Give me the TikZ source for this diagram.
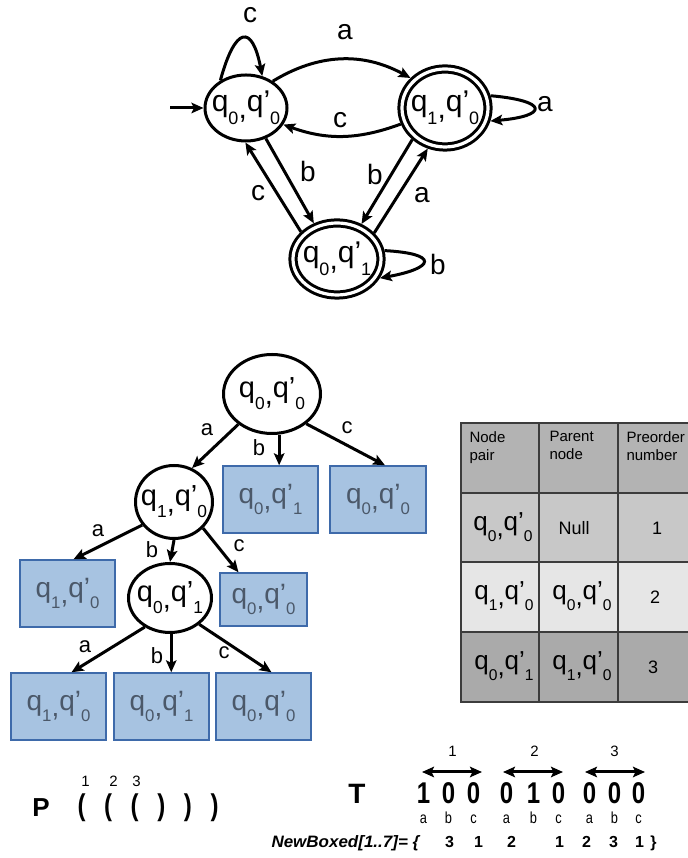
\documentclass[tikz,border=0pt]{standalone}
\usepackage{graphicx}
\usepackage{fontspec}
\setmainfont{Liberation Sans}
\usetikzlibrary{arrows.meta,shapes,automata,positioning}

\definecolor{leaffill}{HTML}{A7C3E1}
\definecolor{leafline}{HTML}{3E6AAA}
\definecolor{leaftext}{HTML}{4B5869}
\definecolor{headgray}{HTML}{B3B3B3}
\definecolor{rowone}{HTML}{C8C8C8}
\definecolor{rowtwo}{HTML}{E6E6E6}
\definecolor{rowthree}{HTML}{AAAAAA}
\definecolor{gridgray}{HTML}{3C3C3C}

\newcommand{\sub}[1]{\raisebox{-.42em}{\scalebox{.6}{#1}}}
\newcommand{\pq}[2]{q\sub{#1}\raisebox{-.22em}{,}q’\sub{#2}}
\newcommand{\fsz}[1]{\fontsize{#1}{#1}\selectfont}
\newcommand{\ctr}[1]{\makebox[0pt]{#1}}
\newcommand{\nar}[1]{\makebox[0pt]{\scalebox{.8}[1]{#1}}}

\begin{document}
\begin{tikzpicture}[x=1pt,y=1pt,>={Stealth[length=12pt,width=10.5pt,inset=2.5pt]},line width=3pt]

	\tikzstyle{pair}=[ellipse,draw=black,inner xsep=-12pt,inner ysep=0pt,font=\fsz{30}]
	\tikzstyle{final}=[pair,double,double distance=3.2pt,outer sep=4.6pt]
	\tikzstyle{leaf}=[rectangle,draw=leafline,fill=leaffill,line width=1.4pt,text=leaftext,minimum width=95pt,minimum height=67pt,font=\fsz{28}]
	\tikzstyle{sym}=[inner sep=0pt,font=\fsz{28}]
	\tikzstyle{tsym}=[inner sep=0pt,font=\fsz{22}]
	\tikzstyle{cell}=[inner sep=0pt,font=\fsz{26}]
	\tikzstyle{num}=[inner sep=0pt,font=\fsz{18}]
	\tikzstyle{head}=[font=\fontsize{15}{18}\selectfont,align=left,anchor=north west,inner sep=0pt]
	\tikzstyle{grid}=[draw=gridgray,line width=1.2pt]

	\useasboundingbox (0,0) rectangle (687,858);

	% product automaton
	\node [pair,minimum width=82pt,minimum height=66pt] (s00) at (246,750) {\pq{0}{0}};
	\node [final,minimum width=86pt,minimum height=78pt] (s10) at (445,750) {\pq{1}{0}};
	\node [final,minimum width=88pt,minimum height=72pt] (s01) at (337,599) {\pq{0}{1}};
	\coordinate (init) at (170,750);

	\draw [->] (init) -- (s00.west);
	\draw [->] (s00.133) .. controls +(15,55) and +(-10,52) .. (s00.63) node [sym] at (250,843) {c};
	\draw [->] (s00.45) to [bend left=30] (s10.139) node [sym] at (345,826) {a};
	\draw [->] (s10.200) to [bend left=20] (s00.336) node [sym] at (340,738) {c};
	\draw [->] (s00.-57) -- (s01.123) node [sym] at (308,686) {b};
	\draw [->] (s01.143) -- (s00.-91) node [sym] at (258,665) {c};
	\draw [->] (s10.224) -- (s01.55) node [sym] at (375,683) {b};
	\draw [->] (s01.35) -- (s10.247) node [sym] at (422,663) {a};
	\draw [->] (s10.15) .. controls +(58,-5) and +(58,5) .. (s10.-16) node [sym] at (545,754) {a};
	\draw [->] (s01.10) .. controls +(55,-3) and +(55,10) .. (s01.-24) node [sym] at (438,593) {b};

	% search tree
	\node [pair,minimum width=97pt,minimum height=79pt,font=\fsz{29}] (r) at (272,464) {\pq{0}{0}};
	\node [pair,minimum width=77pt,minimum height=73pt,font=\fsz{29}] (t1) at (174,356) {\pq{1}{0}};
	\node [pair,minimum width=83pt,minimum height=69pt,font=\fsz{29}] (t3) at (170,260) {\pq{0}{1}};
	\node [leaf] (b1) at (270.5,358.5) {\pq{0}{1}};
	\node [leaf,minimum width=96pt] (c1) at (378,358.5) {\pq{0}{0}};
	\node [leaf] (a2) at (67.5,264.5) {\pq{1}{0}};
	\node [leaf,minimum width=87pt,minimum height=53pt] (c2) at (263.5,258.5) {\pq{0}{0}};
	\node [leaf] (a3) at (58.5,151.5) {\pq{1}{0}};
	\node [leaf] (b3) at (161.5,151.5) {\pq{0}{1}};
	\node [leaf] (c3) at (263.5,151.5) {\pq{0}{0}};

	\draw [->] (r.222) -- (t1.62) node [tsym] at (207,428) {a};
	\draw [->] (r.-80) -- (r.-80 |- b1.north) node [tsym] at (259,410) {b};
	\draw [->] (r.-41) -- ([xshift=7pt]c1.north) node [tsym] at (347,430) {c};
	\draw [->] (t1.216) -- ([xshift=6pt]a2.north) node [tsym] at (98,327) {a};
	\draw [->] (t1.south) -- (t3.north) node [tsym] at (152,308) {b};
	\draw [->] (t1.-42) -- ([xshift=-25pt]c2.north) node [tsym] at (239,312) {c};
	\draw [->] (t3.229) -- ([xshift=13pt]a3.north) node [tsym] at (85,211) {a};
	\draw [->] (t3.-88) -- (t3.-88 |- b3.north) node [tsym] at (157,202) {b};
	\draw [->] (t3.-42) -- ([xshift=8pt]c3.north) node [tsym] at (224,205) {c};

	% table
	\fill [headgray] (461,365) rectangle (700,435);
	\fill [rowone] (461,296) rectangle (700,365);
	\fill [rowtwo] (461,226) rectangle (700,296);
	\fill [rowthree] (461,156) rectangle (700,226);
	\draw [grid] (700,435) -- (461,435) -- (461,156) -- (700,156);
	\draw [grid] (461,365) -- (700,365);
	\draw [grid] (461,296) -- (700,296);
	\draw [grid] (461,226) -- (700,226);
	\draw [grid,line width=2pt] (539,435) -- (539,156);
	\draw [grid] (618,435) -- (618,156);

	\node [head] (h1) at (468,428) {Node\\pair};
	\node [head] (h2) at (548,428) {Parent\\node};
	\node [head] (h3) at (625,428) {Preorder\\number};

	\node [cell] (p1) at (503,331) {\pq{0}{0}};
	\node [num] (f1) at (574,330) {Null};
	\node [num] (o1) at (657,330) {1};
	\node [cell] (p2) at (504,262) {\pq{1}{0}};
	\node [cell] (f2) at (582,262) {\pq{0}{0}};
	\node [num] (o2) at (655,261) {2};
	\node [cell] (p3) at (504,192) {\pq{0}{1}};
	\node [cell] (f3) at (582,192) {\pq{1}{0}};
	\node [num] (o3) at (653,191) {3};

	% parenthesis and bit string
	\node [font=\fsz{26}\bfseries] (P) at (41,50) {P};
	\node [font=\fsz{30}\bfseries,inner sep=0pt,anchor=west] (par) at (80,50) {\nar{(}\hskip26.6pt\nar{(}\hskip26.6pt\nar{(}\hskip26.6pt\nar{)}\hskip26.6pt\nar{)}\hskip26.6pt\nar{)}};
	\node [font=\fsz{15},inner sep=0pt,anchor=west] (pnum) at (84,77) {\ctr{1}\hskip28pt\ctr{2}\hskip23pt\ctr{3}};

	\node [font=\fsz{28}\bfseries] (T) at (357,64) {T};
	\node [font=\fsz{30}\bfseries,inner sep=0pt,anchor=west] (bits) at (422,65) {\nar{1}\hskip25pt\nar{0}\hskip25pt\nar{0}\hskip33pt\nar{0}\hskip27pt\nar{1}\hskip25pt\nar{0}\hskip31pt\nar{0}\hskip25pt\nar{0}\hskip24pt\nar{0}};
	\node [font=\fsz{16},inner sep=0pt,anchor=west] (syms) at (422,40) {\nar{a}\hskip25pt\nar{b}\hskip25pt\nar{c}\hskip33pt\nar{a}\hskip27pt\nar{b}\hskip25pt\nar{c}\hskip31pt\nar{a}\hskip25pt\nar{b}\hskip24pt\nar{c}};
	\node [font=\fsz{15},inner sep=0pt,anchor=west] (grp) at (451,107) {\ctr{1}\hskip82pt\ctr{2}\hskip80pt\ctr{3}};
	\coordinate (g1l) at (422,86);
	\coordinate (g1r) at (482,86);
	\coordinate (g2l) at (503,86);
	\coordinate (g2r) at (563,86);
	\coordinate (g3l) at (585,86);
	\coordinate (g3r) at (645,86);
	\draw [<->] (g1l) -- (g1r);
	\draw [<->] (g2l) -- (g2r);
	\draw [<->] (g3l) -- (g3r);

	\node [font=\fsz{16.5}\bfseries\itshape,inner sep=0pt,anchor=west] (nbx) at (270,15) {\scalebox{1.03}[1]{NewBoxed[1..7]= \{}};
	\node [font=\fsz{16}\bfseries,inner sep=0pt,anchor=west] (nbv) at (448,15) {\ctr{3}\hskip29pt\ctr{1}\hskip33pt\ctr{2}\hskip48pt\ctr{1}\hskip27pt\ctr{2}\hskip27pt\ctr{3}\hskip26pt\ctr{1}\hskip14pt\ctr{\}}};

\end{tikzpicture}
\end{document}
